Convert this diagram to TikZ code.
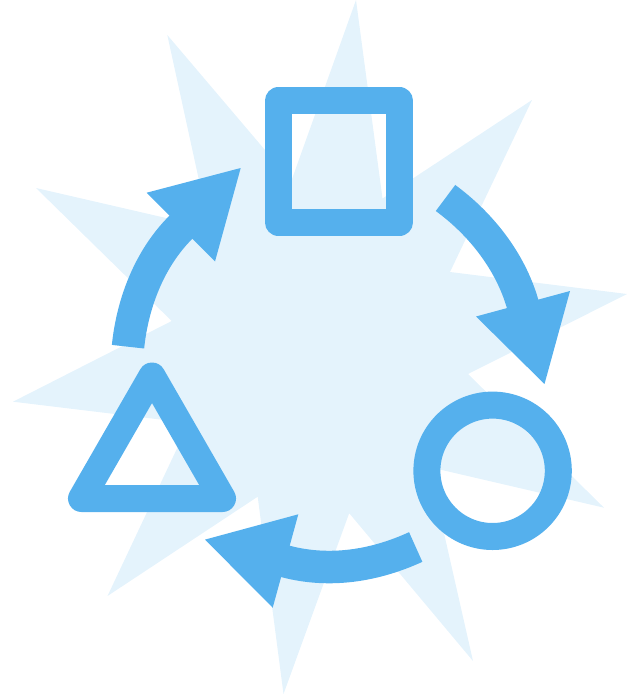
\documentclass[tikz,border=0pt]{standalone}
\usepackage{xcolor}
\usepackage{tikz}
\definecolor{iconblue}{HTML}{55B0ED}
\definecolor{burstblue}{HTML}{E4F3FC}
\tikzset{
    burst/.style={
        fill=burstblue
    },
    outline/.style={
        draw=iconblue,
        line width=27pt,
        line join=round
    },
    band/.style={
        draw=iconblue,
        line width=32.5pt
    },
    head/.style={
        fill=iconblue
    }
}
\begin{document}
\begin{tikzpicture}[x=1pt,y=-1pt]
        \useasboundingbox (0,0) rectangle (636,698);

        \fill[burst] (356,0) -- (382.5,198.5) -- (532,100) -- (450,272) -- (627,294) -- (468,374)
            -- (604,507.7) -- (429,467) -- (473,661) -- (349.2,513.2) -- (283.5,694) -- (257.7,496.7)
            -- (107.5,596) -- (189,423) -- (13,401.7) -- (171.7,321) -- (36,188) -- (209.4,228)
            -- (167.3,35) -- (291.3,181) -- cycle;

        \draw[outline] (278.25,100.8) rectangle (399.5,222.3);
        \draw[outline] (492.6,470.8) circle (65.7);
        \draw[outline] (152,376) -- (222.5,498.5) -- (81.5,498.5) -- cycle;

        \draw[band] (445.5,198) .. controls (481,224) and (510.2,261.2) .. (522.5,303.5) -- (525,312);
        \fill[head] (570,291) -- (544.5,384) -- (476,316.5) -- cycle;

        \draw[band] (415.7,547) .. controls (374.7,565.8) and (329.8,573) .. (285.8,561.5) -- (277,559);
        \fill[head] (298.3,514.3) -- (205,539.6) -- (272.7,607.7) -- cycle;

        \draw[band] (128,346.7) .. controls (132.5,302.9) and (149.6,258.5) .. (180.7,227.4) -- (187,221);
        \fill[head] (146.7,192.7) -- (240.7,168) -- (215,261.5) -- cycle;
    \end{tikzpicture}
\end{document}
